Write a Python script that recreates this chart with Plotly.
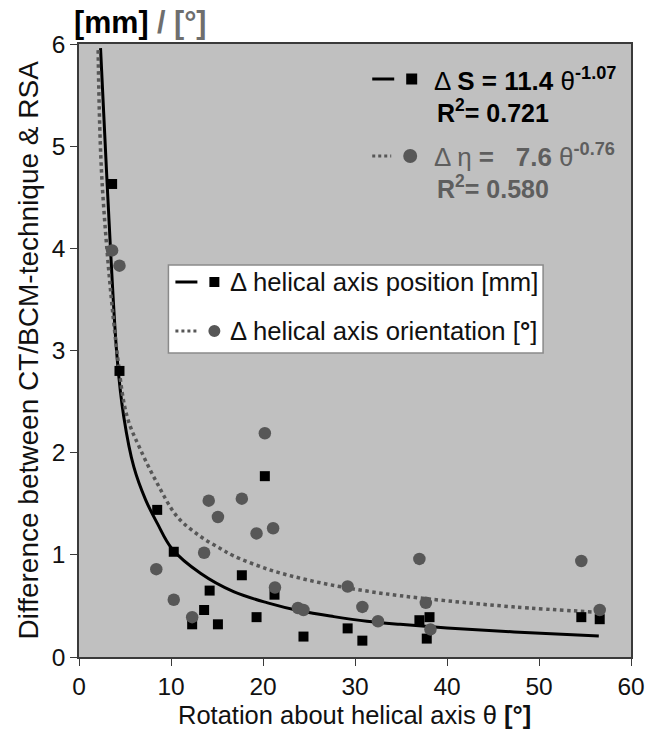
import plotly.graph_objects as go

# ---- data ----
# black squares: Δ helical axis position [mm]
sq_x = [3.6, 4.4, 8.5, 10.3, 12.3, 13.6, 14.2, 15.1, 17.7, 19.3, 20.2, 21.25, 24.4, 29.2, 30.8, 37.0, 37.8, 38.1, 54.6, 56.6]
sq_y = [4.63, 2.80, 1.44, 1.03, 0.32, 0.46, 0.65, 0.32, 0.80, 0.39, 1.77, 0.61, 0.20, 0.28, 0.16, 0.36, 0.18, 0.39, 0.39, 0.37]

# grey circles: Δ helical axis orientation [°]
ci_x = [3.6, 4.4, 8.4, 10.3, 12.3, 13.6, 14.1, 15.1, 17.7, 19.3, 20.2, 21.1, 21.3, 23.8, 24.4, 29.2, 30.8, 32.5, 37.0, 37.7, 38.2, 54.6, 56.6]
ci_y = [3.98, 3.83, 0.86, 0.56, 0.39, 1.02, 1.53, 1.37, 1.55, 1.21, 2.19, 1.26, 0.68, 0.48, 0.46, 0.69, 0.49, 0.35, 0.96, 0.53, 0.27, 0.94, 0.46]

# trend curves as drawn in the picture
fit_s_x = [2.34, 3.06, 4.15, 4.87, 5.96, 7.23, 8.5, 10.1, 13.2, 16.8, 20.5, 24.1, 27.7, 31.3, 34.9, 40.0, 47.3, 56.5]
fit_s_y = [5.96, 4.63, 2.92, 2.35, 1.86, 1.54, 1.31, 1.06, 0.82, 0.64, 0.53, 0.45, 0.395, 0.35, 0.32, 0.285, 0.245, 0.205]
fit_e_x = [2.08, 2.52, 4.22, 5.24, 6.68, 8.5, 10.7, 13.2, 15.4, 16.8, 20.5, 24.1, 27.7, 31.3, 34.9, 40.0, 47.3, 56.0]
fit_e_y = [5.94, 4.63, 2.92, 2.35, 2.03, 1.70, 1.37, 1.18, 1.06, 0.99, 0.86, 0.77, 0.70, 0.645, 0.60, 0.55, 0.49, 0.44]

x_ticks = [0, 10, 20, 30, 40, 50, 60]
y_ticks = [0, 1, 2, 3, 4, 5, 6]

legend_labels = ["Δ helical axis position [mm]", "Δ helical axis orientation [<b>°</b>]"]

FONT = "Liberation Sans, Arial, sans-serif"
GREY = "#575757"
GREY_TXT = "#5e5e5e"

fig = go.Figure()
fig.add_trace(go.Scatter(x=fit_s_x, y=fit_s_y, mode="lines",
                         line=dict(color="black", width=3, shape="spline"),
                         showlegend=False, hoverinfo="skip"))
fig.add_trace(go.Scatter(x=fit_e_x, y=fit_e_y, mode="lines",
                         line=dict(color=GREY, width=3.5, dash="dot", shape="spline"),
                         showlegend=False, hoverinfo="skip"))
fig.add_trace(go.Scatter(x=sq_x, y=sq_y, mode="markers",
                         marker=dict(symbol="square", size=10, color="black"),
                         showlegend=False))
fig.add_trace(go.Scatter(x=ci_x, y=ci_y, mode="markers",
                         marker=dict(symbol="circle", size=12.5, color=GREY),
                         showlegend=False))

L, R, T, B = 78.5, 631.0, 44.0, 657.0
W, H = 660, 729


def px(xp):
    return (xp - L) / (R - L)


def py(yp):
    return (B - yp) / (B - T)


shapes = []
annotations = []

# manual legend box
shapes.append(dict(type="rect", xref="paper", yref="paper",
                   x0=px(168), x1=px(543), y0=py(353), y1=py(265),
                   fillcolor="white", line=dict(color="#8a8a8a", width=1.5)))
rows = [282, 331]
shapes.append(dict(type="line", xref="paper", yref="paper", x0=px(175), x1=px(197),
                   y0=py(rows[0]), y1=py(rows[0]), line=dict(color="black", width=3)))
shapes.append(dict(type="rect", xref="paper", yref="paper", x0=px(209), x1=px(219),
                   y0=py(rows[0] + 5), y1=py(rows[0] - 5), fillcolor="black", line=dict(width=0)))
shapes.append(dict(type="line", xref="paper", yref="paper", x0=px(175), x1=px(197),
                   y0=py(rows[1]), y1=py(rows[1]), line=dict(color=GREY, width=3, dash="dot")))
shapes.append(dict(type="circle", xref="paper", yref="paper", x0=px(208), x1=px(220),
                   y0=py(rows[1] + 6), y1=py(rows[1] - 6), fillcolor=GREY, line=dict(width=0)))
for lab, r in zip(legend_labels, rows):
    annotations.append(dict(xref="paper", yref="paper", x=px(228), y=py(r), text=lab,
                            showarrow=False, xanchor="left", yanchor="middle",
                            font=dict(family=FONT, size=25.7, color="#111")))

# equation block (top right)
eq_rows = [79, 156]
shapes.append(dict(type="line", xref="paper", yref="paper", x0=px(372), x1=px(394),
                   y0=py(eq_rows[0]), y1=py(eq_rows[0]), line=dict(color="black", width=3)))
shapes.append(dict(type="rect", xref="paper", yref="paper", x0=px(406), x1=px(417),
                   y0=py(eq_rows[0] + 5.5), y1=py(eq_rows[0] - 5.5), fillcolor="black", line=dict(width=0)))
shapes.append(dict(type="line", xref="paper", yref="paper", x0=px(372), x1=px(391),
                   y0=py(eq_rows[1]), y1=py(eq_rows[1]), line=dict(color=GREY, width=3, dash="dot")))
shapes.append(dict(type="circle", xref="paper", yref="paper", x0=px(403), x1=px(417),
                   y0=py(eq_rows[1] + 7), y1=py(eq_rows[1] - 7), fillcolor=GREY, line=dict(width=0)))

annotations.append(dict(xref="paper", yref="paper", x=px(432), y=py(79),
                        text="Δ <b>S = 11.4</b> θ<sup><b>-1.07</b></sup>",
                        showarrow=False, xanchor="left", yanchor="middle",
                        font=dict(family=FONT, size=26, color="black")))
annotations.append(dict(xref="paper", yref="paper", x=px(435), y=py(111),
                        text="<b>R<sup>2</sup>= 0.721</b>",
                        showarrow=False, xanchor="left", yanchor="middle",
                        font=dict(family=FONT, size=25, color="black")))
annotations.append(dict(xref="paper", yref="paper", x=px(432), y=py(155),
                        text="Δ η <b>=   7.6</b> θ<sup><b>-0.76</b></sup>",
                        showarrow=False, xanchor="left", yanchor="middle",
                        font=dict(family=FONT, size=26, color=GREY_TXT)))
annotations.append(dict(xref="paper", yref="paper", x=px(435), y=py(187),
                        text="<b>R<sup>2</sup>= 0.580</b>",
                        showarrow=False, xanchor="left", yanchor="middle",
                        font=dict(family=FONT, size=25, color=GREY_TXT)))

# unit header
annotations.append(dict(xref="paper", yref="paper", x=px(71), y=py(22),
                        text="<b>[mm]</b><b><span style='color:#6e6e6e'> / [°]</span></b>",
                        showarrow=False, xanchor="left", yanchor="middle",
                        font=dict(family=FONT, size=30.5, color="black")))

# axis titles
annotations.append(dict(xref="paper", yref="paper", x=px(27), y=py(350),
                        text="Difference between CT/BCM-technique &amp; RSA",
                        textangle=-90, showarrow=False, xanchor="center", yanchor="middle",
                        font=dict(family=FONT, size=28, color="#111")))
annotations.append(dict(xref="paper", yref="paper", x=px(354), y=py(714.5),
                        text="Rotation about helical axis θ <b>[°]</b>",
                        showarrow=False, xanchor="center", yanchor="middle",
                        font=dict(family=FONT, size=25.5, color="#111")))

axis_common = dict(showline=True, mirror=True, linecolor="#3a3a3a", linewidth=1.5,
                   ticks="outside", tickcolor="#3a3a3a", ticklen=7, tickwidth=1,
                   showgrid=False, zeroline=False,
                   tickfont=dict(family=FONT, size=24.5, color="#111"))

fig.update_layout(
    width=W, height=H,
    margin=dict(l=L, r=W - R, t=T, b=H - B, pad=0),
    paper_bgcolor="white", plot_bgcolor="#c0c0c0",
    xaxis=dict(range=[0, 60], tickvals=x_ticks, **axis_common),
    yaxis=dict(range=[0, 6], tickvals=y_ticks, **axis_common),
    shapes=shapes, annotations=annotations, showlegend=False,
)

fig.write_html("out.html", config={"displayModeBar": False},
               post_script="document.body.style.margin='0';document.body.style.overflow='hidden';")
